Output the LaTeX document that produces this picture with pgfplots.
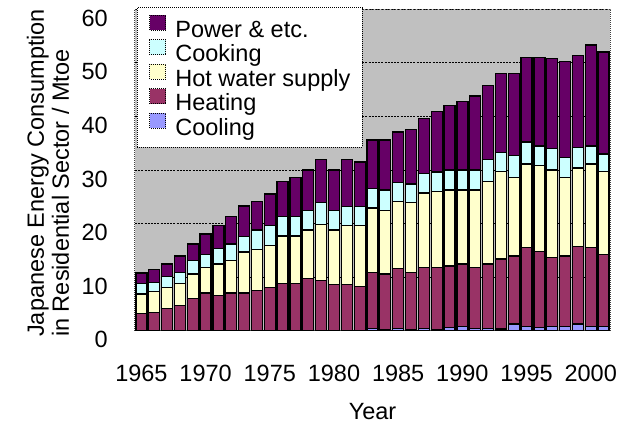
\documentclass[border=0pt]{standalone}
\usepackage{fontspec}
\setmainfont{Liberation Sans}
\usepackage{pgfplots}
\usepackage{pgfplotstable}
\pgfplotsset{compat=1.18}

\definecolor{cpower}{HTML}{660066}
\definecolor{ccook}{HTML}{CCFFFF}
\definecolor{chot}{HTML}{FFFFCC}
\definecolor{cheat}{HTML}{993366}
\definecolor{ccool}{HTML}{9999FF}
\definecolor{cbg}{HTML}{C0C0C0}

\newcommand{\bigf}{\fontsize{23.5}{25}\selectfont}

% segment sizes in Mtoe, bottom to top
\pgfplotstableread{
year cool heat hot cook power
1965 0   3.2  3.7  1.9 2.0
1966 0   3.5  3.8  1.8 2.4
1967 0   4.2  3.9  2.1 2.3
1968 0   4.7  4.1  2.1 3.1
1969 0   6.1  4.5  2.6 3.0
1970 0.1 7.0  4.7  2.5 3.8
1971 0.1 6.5  5.9  2.9 4.2
1972 0.1 7.0  6.1  3.0 5.2
1973 0.1 7.0  7.6  2.9 5.7
1974 0.1 7.4  7.7  3.6 5.3
1975 0.1 8.0  7.8  3.7 5.9
1976 0.1 8.8  8.8  3.6 6.5
1977 0.1 8.8  8.8  3.6 7.3
1978 0.1 9.7  9.0  3.6 7.6
1979 0.1 9.3  10.5 4.0 8.0
1980 0.1 8.6  10.1 3.7 7.5
1981 0.1 8.6  10.9 3.6 8.7
1982 0.1 8.2  11.3 3.6 8.3
1983 0.5 10.4 12.0 3.7 9.0
1984 0.3 10.3 11.9 3.8 9.3
1985 0.5 11.2 12.4 3.6 9.4
1986 0.2 10.7 13.1 3.4 10.2
1987 0.5 11.3 13.9 3.6 10.3
1988 0.3 11.5 14.2 3.6 11.3
1989 0.7 11.4 14.2 3.7 12.0
1990 0.9 11.6 13.8 3.7 12.7
1991 0.5 11.3 14.5 3.7 13.8
1992 0.5 12.0 15.3 4.1 13.8
1993 0.4 13.0 16.3 3.6 14.7
1994 1.3 12.7 14.6 4.1 15.3
1995 0.9 14.6 15.6 4.1 15.7
1996 0.7 14.1 16.0 3.7 16.4
1997 0.9 12.8 16.3 4.0 16.8
1998 0.9 13.1 14.6 3.7 17.9
1999 1.3 14.5 14.6 3.8 17.2
2000 0.9 14.6 15.6 3.4 18.8
2001 0.9 13.4 15.4 3.3 19.0
}\energy

\begin{document}
\begin{tikzpicture}
\path[use as bounding box] (-135pt,-94pt) rectangle (495pt,331pt);
\begin{axis}[
    scale only axis,
    width=475pt, height=322pt,
    ybar stacked,
    bar width=11pt,
    xmin=1964.5, xmax=2001.5,
    ymin=0, ymax=60,
    enlarge x limits=false,
    xtick={1965,1970,...,2000},
    ytick={0,10,...,60},
    major tick length=0pt,
    ymajorgrids,
    major grid style={black, line width=1pt, dash pattern=on 2pt off 1.2pt},
    axis background/.style={fill=cbg},
    axis line style={black!75, line width=1pt, densely dotted},
    /pgf/number format/assume math mode=true,
    tick label style={font=\bigf, inner sep=0pt},
    xticklabel style={/pgf/number format/1000 sep={}, anchor=base, yshift=-51pt},
    yticklabel style={anchor=base east, xshift=-27pt, yshift=-17pt},
    xlabel={Year},
    xlabel style={font=\bigf, inner sep=0pt, at={([yshift=-89pt]rel axis cs:0.5,0)}, anchor=base},
    ylabel={Japanese Energy Consumption\\in Residential Sector / Mtoe},
    ylabel style={font=\bigf, inner sep=0pt, align=left, at={([xshift=-87pt,yshift=-6pt]rel axis cs:0,0)}, anchor=west},
    every axis plot/.append style={draw=black, line width=1.3pt},
    reverse legend,
    legend cell align=left,
    legend image code/.code={\draw[#1, line width=1pt, densely dotted] (0pt,0.5pt) rectangle (16pt,15.5pt);},
    legend style={at={(0.004,1.006)}, anchor=north west, font=\bigf,
        draw=black, line width=1pt, densely dotted, fill=white,
        inner xsep=12pt, inner ysep=7pt, column sep=9pt, row sep=-3pt,
        nodes={inner sep=0pt, text height=18pt, text depth=5pt, solid}},
]
\addplot[fill=ccool] table[x=year, y=cool] {\energy};
\addplot[fill=cheat] table[x=year, y=heat] {\energy};
\addplot[fill=chot] table[x=year, y=hot] {\energy};
\addplot[fill=ccook] table[x=year, y=cook] {\energy};
\addplot[fill=cpower] table[x=year, y=power] {\energy};
\legend{Cooling, Heating, Hot water supply, Cooking, Power \& etc.}
\end{axis}
\end{tikzpicture}
\end{document}
